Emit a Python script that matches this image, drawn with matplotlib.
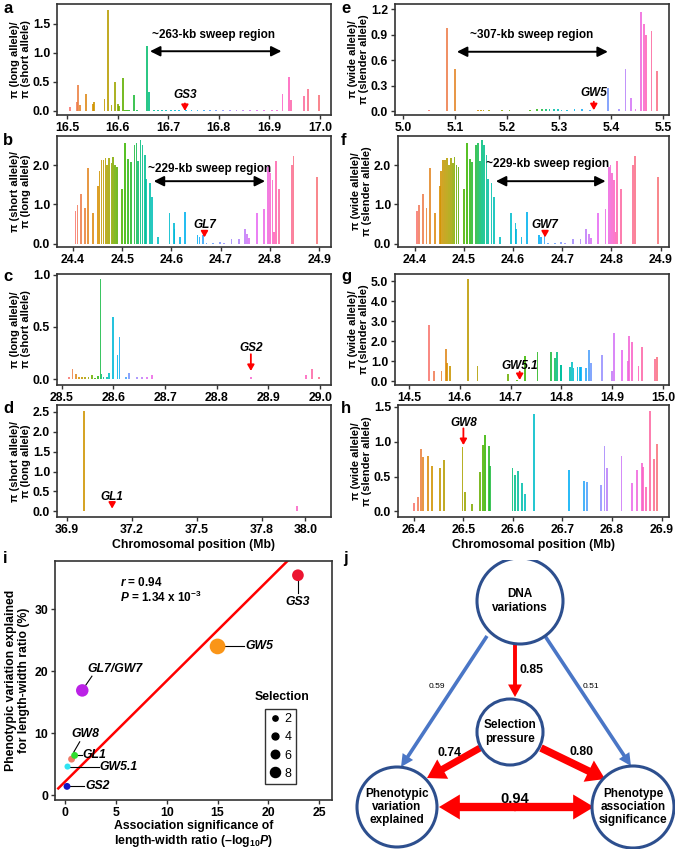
import matplotlib.pyplot as plt
import numpy as np
from matplotlib.colors import LinearSegmentedColormap
from matplotlib.patches import Circle, FancyArrowPatch
from matplotlib.lines import Line2D

plt.rcParams['font.family'] = ['Liberation Sans', 'DejaVu Sans']
plt.rcParams['font.weight'] = 'bold'
plt.rcParams['mathtext.fontset'] = 'custom'
plt.rcParams['mathtext.rm'] = 'Liberation Sans:bold'
plt.rcParams['mathtext.it'] = 'Liberation Sans:italic:bold'
plt.rcParams['mathtext.bf'] = 'Liberation Sans:bold'

# ---- panel a (GS3)
pos_a = [16.505, 16.519, 16.521, 16.525, 16.538, 16.551, 16.553, 16.574, 16.581, 16.588,
         16.595, 16.601, 16.603, 16.610, 16.614, 16.618, 16.622, 16.632, 16.638, 16.658,
         16.662, 16.672, 16.680, 16.688, 16.696, 16.705, 16.713, 16.722, 16.735, 16.746,
         16.758, 16.770, 16.782, 16.795, 16.808, 16.822, 16.835, 16.848, 16.862, 16.876,
         16.890, 16.905, 16.915, 16.926, 16.939, 16.943, 16.968, 16.976, 16.998]
pi_a = [0.07, 0.15, 0.44, 0.10, 0.30, 0.12, 0.15, 0.20, 1.75, 0.10,
        0.50, 0.12, 0.08, 0.57, 0.01, 0.01, 0.01, 0.27, 0.01, 1.12,
        0.33, 0.01, 0.01, 0.01, 0.01, 0.01, 0.01, 0.01, 0.01, 0.01,
        0.01, 0.01, 0.01, 0.01, 0.01, 0.01, 0.01, 0.01, 0.01, 0.01,
        0.01, 0.01, 0.01, 0.30, 0.58, 0.19, 0.25, 0.37, 0.27]

# ---- panel b / f (GL7 / GW7)
pos_b = [24.405, 24.409, 24.417, 24.424, 24.431, 24.441, 24.451, 24.454, 24.458, 24.462,
         24.466, 24.469, 24.473, 24.478, 24.481, 24.485, 24.489, 24.500, 24.506, 24.512,
         24.517, 24.525, 24.529, 24.532, 24.537, 24.541, 24.546, 24.549, 24.556, 24.561,
         24.573, 24.596, 24.605, 24.606, 24.617, 24.628, 24.653, 24.657, 24.664, 24.671,
         24.685, 24.698, 24.706, 24.722, 24.737, 24.749, 24.754, 24.758, 24.773, 24.788,
         24.795, 24.798, 24.801, 24.805, 24.808, 24.812, 24.819, 24.844, 24.848, 24.895]
pi_b = [0.82, 0.98, 1.27, 0.90, 1.93, 0.78, 1.47, 1.85, 2.12, 2.13,
        2.17, 2.00, 2.18, 2.05, 2.20, 2.00, 1.95, 1.38, 2.57, 2.15,
        2.07, 2.52, 2.57, 2.10, 2.63, 2.52, 2.25, 1.65, 1.55, 1.20,
        0.18, 0.77, 0.52, 0.38, 0.18, 0.80, 0.22, 0.18, 0.22, 0.02,
        0.02, 0.05, 0.02, 0.13, 0.12, 0.37, 0.25, 0.14, 0.78, 0.87,
        1.95, 2.00, 1.80, 1.62, 0.30, 2.10, 1.38, 2.00, 2.22, 1.70]

# ---- panel c (GS2)
pos_c = [28.514, 28.521, 28.528, 28.534, 28.540, 28.545, 28.552, 28.558, 28.565, 28.570,
         28.575, 28.577, 28.581, 28.587, 28.592, 28.600, 28.608, 28.612, 28.625, 28.631,
         28.645, 28.655, 28.665, 28.674, 28.866, 28.972, 28.984, 28.998]
pi_c = [0.02, 0.10, 0.05, 0.02, 0.02, 0.02, 0.02, 0.04, 0.01, 0.03,
        0.96, 0.05, 0.02, 0.02, 0.06, 0.60, 0.23, 0.40, 0.02, 0.06,
        0.02, 0.02, 0.02, 0.04, 0.02, 0.04, 0.10, 0.02]

# ---- panel d (GL1)
pos_d = [36.930, 36.950, 36.982, 37.020, 37.060, 37.100, 37.130, 37.160, 37.190,
         37.220, 37.250, 37.280, 37.310, 37.340, 37.370, 37.960, 37.995]
pi_d = [0.01, 0.01, 2.52, 0.01, 0.01, 0.01, 0.01, 0.02, 0.01,
        0.01, 0.01, 0.02, 0.01, 0.01, 0.01, 0.13, 0.02]

# ---- panel e (GW5)
pos_e = [5.051, 5.085, 5.100, 5.145, 5.150, 5.155, 5.165, 5.190, 5.205, 5.245,
         5.258, 5.268, 5.275, 5.282, 5.290, 5.298, 5.305, 5.315, 5.330, 5.345,
         5.360, 5.394, 5.415, 5.428, 5.438, 5.447, 5.457, 5.464, 5.468, 5.478, 5.489]
pi_e = [0.01, 0.98, 0.50, 0.01, 0.01, 0.01, 0.01, 0.01, 0.01, 0.01,
        0.02, 0.02, 0.02, 0.02, 0.02, 0.02, 0.01, 0.01, 0.02, 0.02,
        0.01, 0.27, 0.02, 0.50, 0.15, 0.02, 1.17, 1.03, 0.90, 0.95, 0.47]

# ---- panel g (GW5.1)
pos_g = [14.540, 14.550, 14.564, 14.573, 14.575, 14.581, 14.617, 14.635, 14.677, 14.682,
         14.695, 14.712, 14.729, 14.753, 14.780, 14.787, 14.792, 14.799, 14.800, 14.817,
         14.821, 14.824, 14.832, 14.836, 14.839, 14.849, 14.854, 14.858, 14.880, 14.891,
         14.900, 14.904, 14.919, 14.931, 14.934, 14.939, 14.952, 14.959, 14.984, 14.988]
pi_g = [2.80, 0.50, 0.52, 1.58, 0.90, 0.75, 5.10, 0.73, 0.02, 0.02,
        0.35, 0.05, 1.25, 1.45, 1.45, 1.15, 1.45, 0.82, 0.78, 0.70,
        0.95, 0.65, 0.70, 0.68, 0.68, 0.65, 1.55, 0.90, 1.28, 0.02,
        0.50, 2.40, 1.55, 1.00, 2.25, 1.95, 0.75, 1.70, 1.10, 1.20]

# ---- panel h (GW8)
pos_h = [26.401, 26.408, 26.415, 26.418, 26.428, 26.436, 26.453, 26.461, 26.498, 26.504,
         26.518, 26.534, 26.539, 26.543, 26.551, 26.554, 26.568, 26.599, 26.604, 26.611,
         26.618, 26.625, 26.642, 26.663, 26.688, 26.705, 26.713, 26.744, 26.750, 26.765,
         26.777, 26.785, 26.790, 26.819, 26.829, 26.841, 26.850, 26.861, 26.863, 26.868,
         26.876, 26.885, 26.890]
pi_h = [0.12, 0.20, 0.90, 0.78, 0.79, 0.65, 0.62, 0.74, 0.92, 0.28,
        0.10, 0.57, 0.95, 1.09, 0.93, 0.65, 0.01, 0.62, 0.52, 0.58,
        0.40, 0.25, 1.40, 0.01, 0.01, 0.01, 0.60, 0.44, 0.42, 0.01,
        0.38, 0.93, 0.62, 0.80, 0.01, 0.41, 0.60, 0.69, 0.64, 0.35,
        1.44, 0.75, 0.97]

# ---- panel i
genes_i = ['GS3', 'GW5', 'GL7/GW7', 'GW8', 'GL1', 'GW5.1', 'GS2']
assoc_i = [22.9, 15.0, 1.7, 0.65, 0.95, 0.25, 0.2]
pve_i = [35.5, 24.0, 16.9, 5.8, 6.4, 4.6, 1.4]
selection_i = [10, 15, 11, 4, 4, 3, 4]
colors_i = ['#EC1430', '#FA9518', '#BB22E6', '#EE7A66', '#30DD30', '#30E4F2', '#1414C4']
fit_slope, fit_intercept = 1.63, 2.15
legend_sel = [2, 4, 6, 8]

# ---- panel j
path_coef = {'dna_sel': 0.85, 'dna_pve': 0.59, 'dna_assoc': 0.51,
             'sel_pve': 0.74, 'sel_assoc': 0.80, 'pve_assoc': 0.94}

hue = LinearSegmentedColormap.from_list('hue', ['#F8766D', '#D89000', '#A3A500', '#39B600', '#00BF7D',
                                                 '#00BFC4', '#00B0F6', '#9590FF', '#E76BF3', '#FF62BC',
                                                 '#F8766D'])

W, H = 675, 849
fig = plt.figure(figsize=(6.75, 8.49), dpi=100)


def add_ax(l, r, t, b):
    return fig.add_axes([l / W, 1 - b / H, (r - l) / W, (b - t) / H])


def style_ax(ax):
    for s in ax.spines.values():
        s.set_color('#333333')
        s.set_linewidth(1.2)
    ax.tick_params(direction='out', length=3, width=1, color='#333333', labelsize=8.8, pad=2)


def pi_panel(ax, pos, vals, xlim, ylim, xticks, yticks, ylabel, gene, gx, gy, g0, g1, sweep=None, xlabel=False):
    n = len(pos)
    cols = [hue(i / n) for i in range(n)]
    w = (xlim[1] - xlim[0]) * 1.8 / 274
    ax.bar(pos, vals, width=w, color=cols, alpha=0.85, linewidth=0)
    ax.set_xlim(*xlim)
    ax.set_ylim(*ylim)
    ax.set_xticks(xticks)
    ax.set_xticklabels(['%.1f' % v for v in xticks])
    ax.set_yticks(yticks)
    ax.set_yticklabels(['%.1f' % v for v in yticks])
    ax.set_ylabel(ylabel, fontsize=8, fontweight='bold', labelpad=1.5, linespacing=1.1)
    style_ax(ax)
    ax.text(gx, gy, gene, ha='center', va='center', fontsize=8.5, style='italic', fontweight='bold')
    ax.annotate('', xy=(gx, g1), xytext=(gx, g0),
                arrowprops=dict(arrowstyle='-|>,head_length=0.35,head_width=0.2', color='red', lw=1.3,
                                shrinkA=0, shrinkB=0))
    if sweep is not None:
        txt, tx, ty, x0, x1, ya = sweep
        ax.text(tx, ty, txt, ha='center', va='center', fontsize=8.5, fontweight='bold')
        ax.annotate('', xy=(x1, ya), xytext=(x0, ya),
                    arrowprops=dict(arrowstyle='<|-|>,head_length=0.6,head_width=0.3', color='black', lw=1.4,
                                    shrinkA=0, shrinkB=0))
    if xlabel:
        ax.set_xlabel('Chromosomal position (Mb)', fontsize=8.8, fontweight='bold', labelpad=2)


lab_ls = 'π (long allele)/\nπ (short allele)'
lab_sl = 'π (short allele)/\nπ (long allele)'
lab_ws = 'π (wide allele)/\nπ (slender allele)'
xt = lambda a: [round(a + 0.1 * k, 1) for k in range(6)]

pi_panel(add_ax(57, 331, 4, 115), pos_a, pi_a, (16.48, 17.022), (-0.07, 1.845), xt(16.5),
         [0, 0.5, 1.0, 1.5], lab_ls, 'GS3', 16.733, 0.28, 0.13, 0.0,
         sweep=('~263-kb sweep region', 16.79, 1.31, 16.664, 16.924, 1.03))
pi_panel(add_ax(57, 331, 136, 247), pos_b, pi_b, (24.3675, 24.924), (-0.085, 2.74), xt(24.4),
         [0, 1.0, 2.0], lab_sl, 'GL7', 24.667, 0.47, 0.32, 0.16,
         sweep=('~229-kb sweep region', 24.678, 1.89, 24.564, 24.79, 1.59))
pi_panel(add_ax(57, 331, 274, 385), pos_c, pi_c, (28.491, 29.021), (-0.054, 1.006), xt(28.5),
         [0, 0.5, 1.0], lab_ls, 'GS2', 28.866, 0.30, 0.24, 0.08)
pi_panel(add_ax(57, 331, 405, 517), pos_d, pi_d, (36.856, 38.118), (-0.14, 2.67),
         [36.9, 37.2, 37.5, 37.8, 38.0], [0, 0.5, 1.0, 1.5, 2.0, 2.5], lab_sl, 'GL1', 37.11, 0.36, 0.235, 0.07,
         xlabel=True)
pi_panel(add_ax(395, 669, 4, 115), pos_e, pi_e, (4.985, 5.5115), (-0.047, 1.264), xt(5.0),
         [0, 0.3, 0.6, 0.9, 1.2], lab_ws, 'GW5', 5.367, 0.21, 0.11, 0.01,
         sweep=('~307-kb sweep region', 5.247, 0.90, 5.104, 5.394, 0.70))
pi_panel(add_ax(398, 669, 136, 247), pos_b, pi_b, (24.366, 24.917), (-0.085, 2.74), xt(24.4),
         [0, 1.0, 2.0], lab_ws, 'GW7', 24.665, 0.47, 0.32, 0.16,
         sweep=('~229-kb sweep region', 24.671, 2.04, 24.565, 24.788, 1.59))
pi_panel(add_ax(395, 669, 274, 385), pos_g, pi_g, (14.4725, 15.012), (-0.2, 5.35), xt(14.5),
         [0, 1, 2, 3, 4, 5], lab_ws, 'GW5.1', 14.718, 0.75, 0.47, 0.05)
pi_panel(add_ax(398, 669, 405, 517), pos_h, pi_h, (26.368, 26.915), (-0.08, 1.524), xt(26.4),
         [0, 0.5, 1.0, 1.5], lab_ws, 'GW8', 26.5, 1.26, 1.19, 0.95, xlabel=True)

# ---- panel i scatter
axi = add_ax(55, 332, 561, 800)


def sel_size(v):
    return ((3.7 + 0.8 * np.asarray(v, dtype=float)) / 1.389) ** 2


xx = np.array([-0.66, 30])
axi.plot(xx, fit_intercept + fit_slope * xx, color='red', lw=1.8, zorder=2)
axi.scatter(assoc_i, pve_i, s=sel_size(selection_i), c=colors_i, zorder=3, linewidths=0)
axi.set_xlim(-0.98, 26.25)
axi.set_ylim(-0.8, 37.8)
axi.set_xticks([0, 5, 10, 15, 20, 25])
axi.set_yticks([0, 10, 20, 30])
style_ax(axi)
axi.set_xlabel('Association significance of\nlength-width ratio (–log$_{10}$$\\mathit{P}$)', fontsize=8.8,
               fontweight='bold', labelpad=1, linespacing=1.05)
axi.set_ylabel('Phenotypic variation explained\nfor length-width ratio (%)', fontsize=8.8, fontweight='bold',
               labelpad=3, linespacing=1.1)
axi.text(5.4, 34.3, '$\\mathit{r}$ = 0.94', fontsize=8.5, va='center')
axi.text(5.4, 32.0, '$\\mathit{P}$ = 1.34 x 10$^{-3}$', fontsize=8.5, va='center')

# labels with leader lines: (text x, text y, ha, line from, line to)
lab_specs = [
    (22.9, 31.1, 'center', (22.9, 35.5), (22.9, 32.6)),
    (17.7, 24.05, 'left', (15.0, 24.0), (17.6, 24.0)),
    (4.9, 20.3, 'center', (1.9, 17.4), (2.65, 19.2)),
    (2.05, 9.9, 'center', (1.45, 8.6), (0.85, 6.9)),
    (1.75, 6.45, 'left', (0.95, 6.4), (1.65, 6.4)),
    (3.4, 4.6, 'left', (0.25, 4.6), (3.3, 4.6)),
    (2.0, 1.4, 'left', (0.2, 1.4), (1.9, 1.4)),
]
for g, (tx, ty, ha, p0, p1) in zip(genes_i, lab_specs):
    axi.plot([p0[0], p1[0]], [p0[1], p1[1]], color='black', lw=0.8, zorder=2.5)
    axi.text(tx, ty, g, ha=ha, va='center', fontsize=8.8, style='italic', fontweight='bold')

handles = [Line2D([], [], ls='', marker='o', color='black', markersize=np.sqrt(sel_size(v)), label=str(v))
           for v in legend_sel]
leg = axi.legend(handles=handles, loc='lower center', bbox_to_anchor=(0.815, 0.04), frameon=True,
                 fancybox=False, edgecolor='black', handlelength=0.8, handletextpad=0.4,
                 labelspacing=0.5, borderpad=0.35, prop={'weight': 'normal', 'size': 9})
leg.get_frame().set_linewidth(1.0)
axi.text(0.82, 0.43, 'Selection', transform=axi.transAxes, ha='center', va='center', fontsize=8.8)

# ---- panel j path diagram (drawn in pixel units)
axj = fig.add_axes([335 / W, 0, 340 / W, 289 / H])
axj.set_xlim(0, 340)
axj.set_ylim(289, 0)
axj.axis('off')

ring = '#2D4F8E'
nodes = [((185, 41), 43, 'DNA\nvariations'),
         ((175, 172), 33, 'Selection\npressure'),
         ((62, 247), 40, 'Phenotypic\nvariation\nexplained'),
         ((298, 247), 41, 'Phenotype\nassociation\nsignificance')]
for c, r, t in nodes:
    axj.add_patch(Circle(c, r, facecolor='white', edgecolor=ring, lw=2.2, zorder=3))
    axj.text(c[0], c[1], t, ha='center', va='center', fontsize=8.5, fontweight='bold', zorder=4,
             linespacing=1.15)


def arrow(p0, p1, color, tail, hw, hl):
    axj.add_patch(FancyArrowPatch(p0, p1, arrowstyle='simple,head_length=%g,head_width=%g,tail_width=%g'
                                  % (hl, hw, tail), mutation_scale=1, color=color, lw=0,
                                  shrinkA=0, shrinkB=0, zorder=2))


blue = '#4A76C6'
arrow((180, 84), (180, 137), 'red', 2.8, 10, 9)
arrow((152, 76), (66, 207), blue, 2.6, 9, 9)
arrow((210, 76), (296, 206), blue, 2.6, 9, 9)
arrow((145, 188), (92, 218), 'red', 5.0, 16, 13)
arrow((206, 188), (270, 219), 'red', 5.5, 17, 13)
arrow((181, 247), (104, 247), 'red', 6.0, 18, 15)
arrow((179, 247), (259, 247), 'red', 6.0, 18, 15)

axj.text(196, 110, '%.2f' % path_coef['dna_sel'], ha='center', va='center', fontsize=8.8)
axj.text(102, 127, '%.2f' % path_coef['dna_pve'], ha='center', va='center', fontsize=6, fontweight='normal')
axj.text(256, 126, '%.2f' % path_coef['dna_assoc'], ha='center', va='center', fontsize=6, fontweight='normal')
axj.text(115, 193, '%.2f' % path_coef['sel_pve'], ha='center', va='center', fontsize=8.8)
axj.text(247, 192, '%.2f' % path_coef['sel_assoc'], ha='center', va='center', fontsize=8.8)
axj.text(180, 239, '%.2f' % path_coef['pve_assoc'], ha='center', va='center', fontsize=10.5)

# panel letters
for ch, x, y in [('a', 3, 1), ('b', 3, 133), ('c', 3, 269), ('d', 3, 401), ('e', 341, 1), ('f', 341, 133),
                 ('g', 341, 269), ('h', 341, 401), ('i', 3, 551), ('j', 343, 551)]:
    fig.text(x / W, 1 - y / H, ch, fontsize=12, fontweight='bold', va='top', ha='left')

fig.savefig('out.png', dpi=100)
